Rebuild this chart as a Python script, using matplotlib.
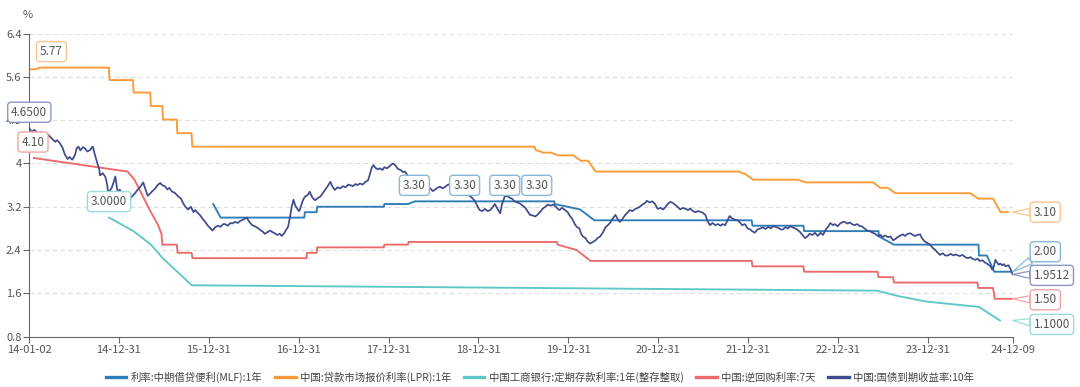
import matplotlib
matplotlib.use('Agg')
import matplotlib.pyplot as plt
import pandas as pd
from matplotlib.lines import Line2D

plt.rcParams['font.family'] = ['Noto Sans CJK SC', 'DejaVu Sans']

# ---------------- data ----------------
series_names = ['利率:中期借贷便利(MLF):1年', '中国:贷款市场报价利率(LPR):1年',
                '中国工商银行:定期存款利率:1年(整存整取)', '中国:逆回购利率:7天',
                '中国:国债到期收益率:10年']
colors = ['#2e7db5', '#fb9a36', '#5ec8c8', '#ec6a6b', '#3f4b8e']
box_edge = ['#8ab8d8', '#fbc48e', '#9cdcdc', '#f2a4a4', '#8e96c2']

mlf_dates = ['2016-01-19', '2016-02-18', '2017-01-23', '2017-01-25', '2017-03-14', '2017-03-16',
             '2017-12-12', '2017-12-14', '2018-03-20', '2018-04-17', '2019-11-04', '2019-11-06',
             '2020-02-17', '2020-04-15', '2022-01-14', '2022-01-17', '2022-08-12', '2022-08-15',
             '2023-06-13', '2023-06-15', '2023-08-15', '2024-07-23', '2024-07-25', '2024-08-26',
             '2024-09-25', '2024-12-09']
mlf_vals = [3.25, 3.00, 3.00, 3.10, 3.10, 3.20, 3.20, 3.25, 3.25, 3.30, 3.30, 3.25,
            3.15, 2.95, 2.95, 2.85, 2.85, 2.75, 2.75, 2.65, 2.50, 2.50, 2.30, 2.30,
            2.00, 2.00]

lpr_dates = ['2014-01-02', '2014-01-28', '2014-02-14', '2014-11-21', '2014-11-24', '2015-02-27',
             '2015-03-02', '2015-05-08', '2015-05-11', '2015-06-26', '2015-06-29', '2015-08-24',
             '2015-08-26', '2015-10-23', '2015-10-26', '2019-08-16', '2019-08-20', '2019-09-20',
             '2019-10-21', '2019-11-20', '2020-01-20', '2020-02-20', '2020-03-20', '2020-04-20',
             '2021-11-22', '2021-12-20', '2022-01-20', '2022-07-20', '2022-08-22', '2023-05-22',
             '2023-06-20', '2023-07-20', '2023-08-21', '2024-06-20', '2024-07-22', '2024-09-20',
             '2024-10-21', '2024-11-20']
lpr_vals = [5.74, 5.74, 5.77, 5.77, 5.54, 5.54, 5.31, 5.31, 5.06, 5.06, 4.81, 4.81,
            4.56, 4.56, 4.31, 4.31, 4.25, 4.20, 4.20, 4.15, 4.15, 4.05, 4.05, 3.85,
            3.85, 3.80, 3.70, 3.70, 3.65, 3.65, 3.55, 3.55, 3.45, 3.45, 3.35, 3.35,
            3.10, 3.10]

dep_dates = ['2014-11-22', '2015-03-01', '2015-05-11', '2015-06-28', '2015-08-26', '2015-10-24',
             '2023-06-08', '2023-09-01', '2023-12-22', '2024-07-25', '2024-10-18']
dep_vals = [3.00, 2.75, 2.50, 2.25, 2.00, 1.75, 1.65, 1.55, 1.45, 1.35, 1.10]

rr_dates = ['2014-01-21', '2015-02-05', '2015-03-05', '2015-04-02', '2015-05-05', '2015-06-09',
            '2015-06-23', '2015-06-26', '2015-08-24', '2015-08-27', '2015-10-23', '2015-10-27',
            '2017-02-01', '2017-02-03', '2017-03-14', '2017-03-16', '2017-12-12', '2017-12-14',
            '2018-03-20', '2018-03-22', '2019-11-15', '2019-11-18', '2020-02-03', '2020-03-30',
            '2022-01-14', '2022-01-17', '2022-08-12', '2022-08-15', '2023-06-09', '2023-06-13',
            '2023-08-11', '2023-08-15', '2024-07-19', '2024-07-22', '2024-09-20', '2024-09-27',
            '2024-12-09']
rr_vals = [4.10, 3.85, 3.70, 3.45, 3.15, 2.86, 2.70, 2.50, 2.50, 2.35, 2.35, 2.25,
           2.25, 2.35, 2.35, 2.45, 2.45, 2.50, 2.50, 2.55, 2.55, 2.50, 2.40, 2.20,
           2.20, 2.10, 2.10, 2.00, 2.00, 1.90, 1.90, 1.80, 1.80, 1.70, 1.70, 1.50,
           1.50]

# 10Y government bond yield (time as decimal year)
bond_t = [
    2014.003, 2014.03, 2014.06, 2014.10, 2014.14, 2014.18, 2014.20, 2014.23, 2014.26, 2014.29,
    2014.31, 2014.34, 2014.37, 2014.40, 2014.43, 2014.45, 2014.48, 2014.51, 2014.53, 2014.55,
    2014.57, 2014.58, 2014.60, 2014.62, 2014.65, 2014.68, 2014.70, 2014.71, 2014.73, 2014.76,
    2014.78, 2014.79, 2014.82, 2014.85, 2014.87, 2014.88, 2014.90, 2014.92, 2014.94, 2014.96,
    2014.975, 2014.99,
    2015.01, 2015.03, 2015.05, 2015.07, 2015.10, 2015.12, 2015.15, 2015.18, 2015.21, 2015.23,
    2015.25, 2015.27, 2015.30, 2015.32, 2015.35, 2015.38, 2015.40, 2015.43, 2015.46, 2015.48,
    2015.51, 2015.54, 2015.56, 2015.59, 2015.62, 2015.66, 2015.69, 2015.72, 2015.74, 2015.77,
    2015.80, 2015.83, 2015.85, 2015.88, 2015.90, 2015.93, 2015.96, 2015.99,
    2016.02, 2016.04, 2016.07, 2016.10, 2016.13, 2016.16, 2016.18, 2016.21, 2016.24, 2016.26,
    2016.29, 2016.32, 2016.35, 2016.38, 2016.40, 2016.42, 2016.45, 2016.48, 2016.51, 2016.55,
    2016.58, 2016.60, 2016.62, 2016.65, 2016.68, 2016.70, 2016.73, 2016.76, 2016.79, 2016.81,
    2016.84, 2016.86, 2016.88, 2016.90, 2016.92, 2016.94, 2016.96, 2016.98,
    2017.00, 2017.01, 2017.03, 2017.05, 2017.07, 2017.10, 2017.12, 2017.14, 2017.16, 2017.18,
    2017.21, 2017.24, 2017.27, 2017.29, 2017.32, 2017.35, 2017.37, 2017.40, 2017.43, 2017.46,
    2017.49, 2017.52, 2017.55, 2017.57, 2017.60, 2017.63, 2017.65, 2017.68, 2017.71, 2017.74,
    2017.77, 2017.79, 2017.81, 2017.83, 2017.85, 2017.88, 2017.90, 2017.93, 2017.95, 2017.98,
    2018.01, 2018.03, 2018.05, 2018.08, 2018.10, 2018.13, 2018.16, 2018.18, 2018.21, 2018.24,
    2018.27, 2018.29, 2018.32, 2018.35, 2018.38, 2018.40, 2018.43, 2018.46, 2018.49, 2018.51,
    2018.54, 2018.57, 2018.60, 2018.63, 2018.65, 2018.68, 2018.71, 2018.74, 2018.76, 2018.79,
    2018.82, 2018.85, 2018.88, 2018.90, 2018.93, 2018.96, 2018.99,
    2019.01, 2019.04, 2019.07, 2019.10, 2019.13, 2019.16, 2019.18, 2019.21, 2019.24, 2019.26,
    2019.29, 2019.32, 2019.35, 2019.37, 2019.40, 2019.43, 2019.46, 2019.49, 2019.52, 2019.55,
    2019.57, 2019.60, 2019.63, 2019.66, 2019.69, 2019.71, 2019.74, 2019.77, 2019.80, 2019.83,
    2019.86, 2019.88, 2019.90, 2019.93, 2019.96, 2019.99,
    2020.02, 2020.04, 2020.07, 2020.09, 2020.12, 2020.14, 2020.16, 2020.19, 2020.21, 2020.24,
    2020.27, 2020.30, 2020.32, 2020.35, 2020.38, 2020.41, 2020.43, 2020.46, 2020.49, 2020.52,
    2020.55, 2020.57, 2020.60, 2020.63, 2020.66, 2020.68, 2020.71, 2020.74, 2020.77, 2020.79,
    2020.82, 2020.85, 2020.87, 2020.90, 2020.93, 2020.96, 2020.99,
    2021.02, 2021.05, 2021.08, 2021.10, 2021.13, 2021.16, 2021.18, 2021.21, 2021.24, 2021.27,
    2021.30, 2021.33, 2021.35, 2021.38, 2021.41, 2021.44, 2021.46, 2021.49, 2021.52, 2021.54,
    2021.57, 2021.60, 2021.63, 2021.66, 2021.69, 2021.71, 2021.74, 2021.77, 2021.79, 2021.82,
    2021.85, 2021.88, 2021.91, 2021.93, 2021.96, 2021.99,
    2022.02, 2022.04, 2022.07, 2022.10, 2022.13, 2022.16, 2022.19, 2022.22, 2022.25, 2022.27,
    2022.30, 2022.33, 2022.36, 2022.38, 2022.41, 2022.44, 2022.46, 2022.49, 2022.52, 2022.54,
    2022.57, 2022.60, 2022.63, 2022.66, 2022.68, 2022.71, 2022.74, 2022.77, 2022.80, 2022.83,
    2022.86, 2022.89, 2022.91, 2022.94, 2022.96, 2022.99,
    2023.02, 2023.05, 2023.07, 2023.10, 2023.13, 2023.15, 2023.18, 2023.21, 2023.24, 2023.26,
    2023.29, 2023.32, 2023.35, 2023.38, 2023.41, 2023.44, 2023.47, 2023.49, 2023.52, 2023.55,
    2023.58, 2023.61, 2023.63, 2023.66, 2023.69, 2023.72, 2023.74, 2023.77, 2023.80, 2023.83,
    2023.85, 2023.88, 2023.91, 2023.93, 2023.96, 2024.00,
    2024.02, 2024.05, 2024.08, 2024.10, 2024.13, 2024.16, 2024.19, 2024.22, 2024.25, 2024.28,
    2024.30, 2024.33, 2024.35, 2024.38, 2024.41, 2024.44, 2024.47, 2024.49, 2024.52, 2024.55,
    2024.57, 2024.60, 2024.63, 2024.66, 2024.69, 2024.71, 2024.72, 2024.735, 2024.745, 2024.76,
    2024.78, 2024.80, 2024.82, 2024.84, 2024.86, 2024.89, 2024.91, 2024.937]
bond_v = [
    4.65, 4.58, 4.62, 4.55, 4.58, 4.52, 4.55, 4.50, 4.45, 4.40,
    4.43, 4.38, 4.30, 4.16, 4.08, 4.12, 4.07, 4.15, 4.28, 4.31,
    4.24, 4.26, 4.30, 4.28, 4.22, 4.25, 4.30, 4.31, 4.18, 4.00,
    3.90, 3.78, 3.82, 3.75, 3.60, 3.45, 3.50, 3.55, 3.65, 3.76,
    3.58, 3.45,
    3.52, 3.40, 3.38, 3.35, 3.40, 3.34, 3.40, 3.45, 3.52, 3.55,
    3.60, 3.65, 3.50, 3.40, 3.45, 3.50, 3.53, 3.60, 3.64, 3.60,
    3.58, 3.52, 3.55, 3.48, 3.46, 3.39, 3.35, 3.25, 3.20, 3.15,
    3.20, 3.10, 3.14, 3.08, 3.05, 2.98, 2.92, 2.85,
    2.80, 2.76, 2.82, 2.85, 2.83, 2.88, 2.88, 2.85, 2.90, 2.89,
    2.92, 2.90, 2.94, 2.96, 2.98, 3.00, 2.92, 2.86, 2.84, 2.80,
    2.76, 2.74, 2.70, 2.73, 2.76, 2.74, 2.71, 2.68, 2.70, 2.66,
    2.72, 2.78, 2.83, 3.00, 3.20, 3.33, 3.22, 3.17,
    3.12, 3.14, 3.25, 3.34, 3.39, 3.42, 3.48, 3.40, 3.35, 3.32,
    3.36, 3.39, 3.46, 3.51, 3.58, 3.66, 3.58, 3.51, 3.56, 3.54,
    3.58, 3.56, 3.61, 3.60, 3.58, 3.62, 3.60, 3.63, 3.61, 3.66,
    3.69, 3.80, 3.92, 3.97, 3.92, 3.89, 3.91, 3.88, 3.93, 3.91,
    3.95, 3.98, 4.00, 3.95, 3.90, 3.88, 3.84, 3.85, 3.78, 3.74,
    3.68, 3.70, 3.66, 3.64, 3.58, 3.60, 3.56, 3.54, 3.49, 3.51,
    3.55, 3.57, 3.54, 3.57, 3.60, 3.62, 3.58, 3.60, 3.56, 3.55,
    3.50, 3.47, 3.45, 3.40, 3.36, 3.30, 3.20,
    3.14, 3.12, 3.16, 3.12, 3.14, 3.20, 3.25, 3.16, 3.08, 3.25,
    3.39, 3.40, 3.36, 3.35, 3.30, 3.28, 3.26, 3.22, 3.18, 3.10,
    3.05, 3.04, 3.02, 3.06, 3.12, 3.16, 3.20, 3.24, 3.22, 3.24,
    3.20, 3.16, 3.14, 3.18, 3.14, 3.10,
    3.02, 2.98, 2.88, 2.83, 2.80, 2.70, 2.65, 2.62, 2.56, 2.52,
    2.55, 2.58, 2.62, 2.65, 2.72, 2.82, 2.85, 2.90, 2.98, 3.05,
    2.96, 2.92, 2.98, 3.05, 3.10, 3.14, 3.12, 3.16, 3.18, 3.20,
    3.24, 3.27, 3.31, 3.28, 3.30, 3.25, 3.16,
    3.18, 3.15, 3.20, 3.25, 3.29, 3.27, 3.24, 3.20, 3.15, 3.18,
    3.16, 3.14, 3.17, 3.12, 3.10, 3.12, 3.11, 3.09, 3.05, 2.95,
    2.86, 2.90, 2.86, 2.88, 2.85, 2.88, 2.86, 2.96, 3.03, 2.98,
    2.96, 2.95, 2.90, 2.86, 2.88, 2.80,
    2.78, 2.75, 2.72, 2.78, 2.80, 2.82, 2.79, 2.83, 2.80, 2.84,
    2.83, 2.81, 2.78, 2.78, 2.82, 2.80, 2.84, 2.82, 2.80, 2.78,
    2.74, 2.68, 2.62, 2.66, 2.70, 2.68, 2.72, 2.66, 2.72, 2.68,
    2.78, 2.84, 2.90, 2.86, 2.88, 2.84,
    2.89, 2.92, 2.92, 2.89, 2.91, 2.88, 2.86, 2.88, 2.84, 2.84,
    2.80, 2.76, 2.75, 2.72, 2.70, 2.66, 2.68, 2.64, 2.67, 2.64,
    2.65, 2.58, 2.60, 2.64, 2.67, 2.69, 2.66, 2.70, 2.71, 2.68,
    2.66, 2.68, 2.69, 2.62, 2.56, 2.52,
    2.50, 2.44, 2.40, 2.36, 2.31, 2.34, 2.30, 2.30, 2.33, 2.30,
    2.32, 2.30, 2.29, 2.31, 2.27, 2.25, 2.27, 2.24, 2.22, 2.24,
    2.20, 2.21, 2.17, 2.14, 2.10, 2.04, 2.05, 2.15, 2.22, 2.18,
    2.13, 2.15, 2.12, 2.14, 2.10, 2.12, 2.06, 1.9512]

max_labels = [  # (series index, date, value, text)
    (1, '2014-04-02', 5.77, '5.77'),
    (4, '2014-01-02', 4.65, '4.6500'),
    (3, '2014-01-17', 4.10, '4.10'),
    (2, '2014-11-22', 3.00, '3.0000'),
    (0, '2018-04-15', 3.30, '3.30'),
    (0, '2018-11-05', 3.30, '3.30'),
    (0, '2019-04-17', 3.30, '3.30'),
    (0, '2019-08-25', 3.30, '3.30'),
]
end_labels = [  # (series index, value, text, y offset px)
    (1, 3.10, '3.10', 0),
    (0, 2.00, '2.00', 20),
    (4, 1.9512, '1.9512', -1),
    (3, 1.50, '1.50', -1),
    (2, 1.10, '1.1000', -4),
]

x_start, x_end = '2014-01-02', '2024-12-09'
tick_dates = ['2014-01-02', '2014-12-31', '2015-12-31', '2016-12-31', '2017-12-31', '2018-12-31',
              '2019-12-31', '2020-12-31', '2021-12-31', '2022-12-31', '2023-12-31', '2024-12-09']
y_ticks = [0.8, 1.6, 2.4, 3.2, 4.0, 4.8, 5.6, 6.4]
y_labels = ['0.8', '1.6', '2.4', '3.2', '4', '4.8', '5.6', '6.4']


def dec_to_date(t):
    y = int(t)
    s = pd.Timestamp(year=y, month=1, day=1)
    e = pd.Timestamp(year=y + 1, month=1, day=1)
    return s + (e - s) * (t - y)


# ---------------- figure ----------------
W, H = 1080, 387
fig = plt.figure(figsize=(W / 100, H / 100), dpi=100)
ax = fig.add_axes([29.3 / W, (H - 336.7) / H, (1012.7 - 29.3) / W, (336.7 - 33.5) / H])

ax.set_xlim(pd.Timestamp(x_start), pd.Timestamp(x_end))
ax.set_ylim(0.8, 6.4)

for yv in y_ticks[1:]:
    ax.axhline(yv, color='#dddddd', lw=0.8, ls=(0, (4, 3)), zorder=0)

lw = 1.35
ax.plot(pd.to_datetime(mlf_dates), mlf_vals, color=colors[0], lw=lw, zorder=2)
ax.plot(pd.to_datetime(lpr_dates), lpr_vals, color=colors[1], lw=lw, zorder=2)
ax.plot(pd.to_datetime(dep_dates), dep_vals, color=colors[2], lw=lw, zorder=2)
ax.plot(pd.to_datetime(rr_dates), rr_vals, color=colors[3], lw=lw, zorder=2)
ax.plot([dec_to_date(t) for t in bond_t], bond_v, color=colors[4], lw=1.25, zorder=3)

ax.set_xticks(pd.to_datetime(tick_dates))
ax.set_xticklabels([pd.Timestamp(d).strftime('%y-%m-%d') for d in tick_dates])
ax.set_yticks(y_ticks)
ax.set_yticklabels(y_labels)
ax.tick_params(axis='both', colors='#666666', labelcolor='#555555', labelsize=8,
               length=4, width=0.8)
ax.tick_params(axis='y', pad=1.5)
ax.tick_params(axis='x', pad=2)
for s in ['top', 'right']:
    ax.spines[s].set_visible(False)
for s in ['left', 'bottom']:
    ax.spines[s].set_color('#666666')
    ax.spines[s].set_linewidth(0.8)

fig.text(28 / W, 1 - 14.5 / H, '%', ha='center', va='center', fontsize=8, color='#555555')

fs_lab = 8.5
for idx, d, v, txt in max_labels:
    ax.annotate(txt, xy=(pd.Timestamp(d), v), xytext=(0, 16), textcoords='offset pixels',
                ha='center', va='center', fontsize=fs_lab, color='#555555', zorder=6,
                annotation_clip=False,
                bbox=dict(boxstyle='round,pad=0.3,rounding_size=0.3', fc='white',
                          ec=box_edge[idx], lw=1.0))

for idx, v, txt, dy in end_labels:
    ax.annotate(txt, xy=(pd.Timestamp(x_end), v), xytext=(21, dy), textcoords='offset pixels',
                ha='left', va='center', fontsize=fs_lab, color='#555555', zorder=6,
                annotation_clip=False,
                bbox=dict(boxstyle='round,pad=0.3,rounding_size=0.3', fc='white',
                          ec=box_edge[idx], lw=1.0),
                arrowprops=dict(arrowstyle='wedge,tail_width=0.6', fc='white',
                                ec=box_edge[idx], lw=0.9, shrinkA=0, shrinkB=0))

handles = [Line2D([], [], color=c, lw=2.4) for c in colors]
fig.legend(handles, series_names, loc='center', bbox_to_anchor=(0.5, 10 / H), ncol=5,
           frameon=False, fontsize=7.5, handlelength=2.0, handletextpad=0.45,
           columnspacing=1.15, labelcolor='#444444')

fig.savefig('out.png', dpi=100)
